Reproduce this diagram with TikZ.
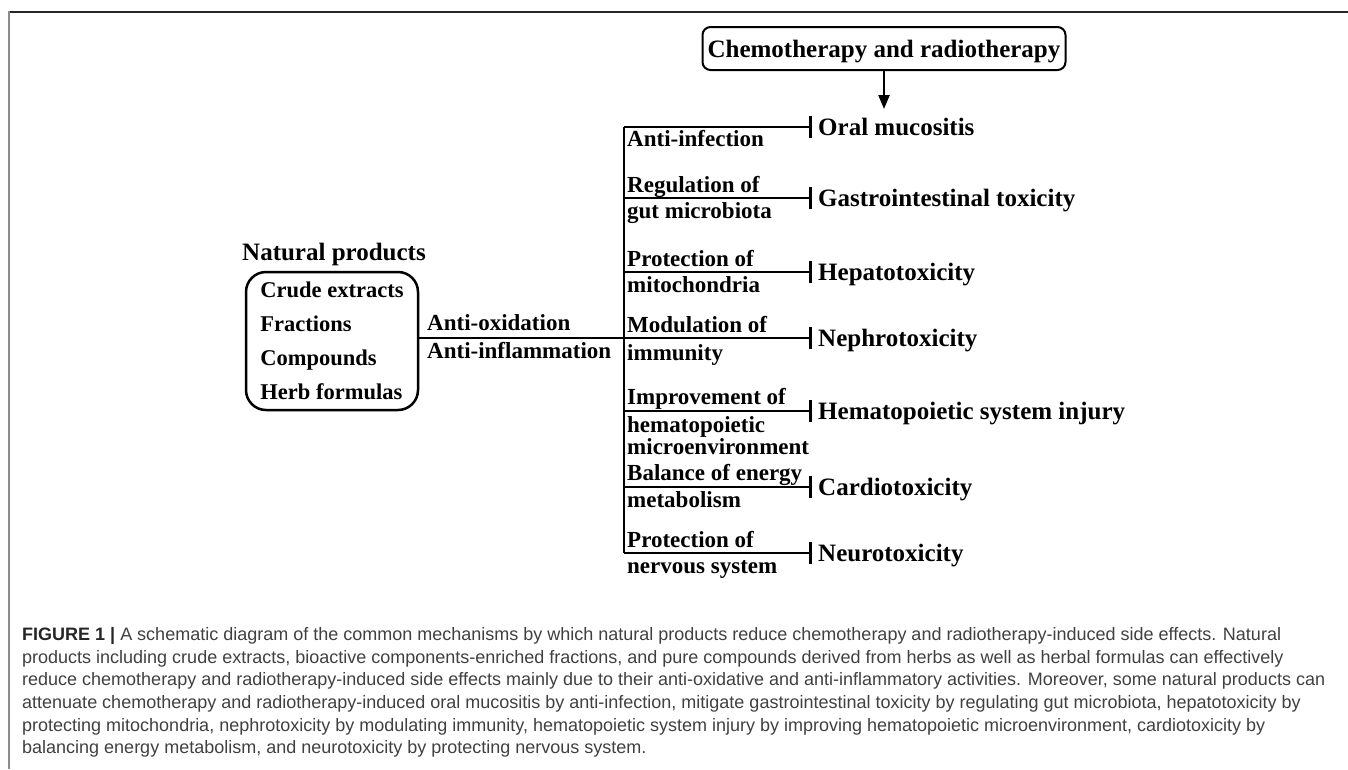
\documentclass[tikz,border=0pt]{standalone}
\usepackage{fontspec}
\setmainfont{Liberation Serif}
\newfontfamily\capfont{Liberation Sans}
\usetikzlibrary{arrows.meta}
\begin{document}
\begin{tikzpicture}[x=1pt,y=-1pt,
  effect/.style={font=\bfseries\fontsize{25}{30}\selectfont, anchor=west, inner xsep=6pt, inner ysep=0pt, text height=16.5pt, text depth=0pt},
  mech/.style={font=\bfseries\fontsize{23}{26}\selectfont, anchor=base west, inner sep=0pt},
  heading/.style={font=\bfseries\fontsize{25}{30}\selectfont, anchor=base west, inner sep=0pt},
  chemobox/.style={draw, line width=2pt, rounded corners=8pt, minimum width=363pt, minimum height=43pt, inner sep=0pt, text height=17pt, text depth=0pt, font=\bfseries\fontsize{25}{30}\selectfont},
  npbox/.style={draw, line width=2.5pt, rounded corners=20pt, minimum width=172pt, minimum height=138pt, inner sep=0pt, align=left, font=\bfseries\fontsize{22.5}{34}\selectfont},
  conn/.style={line width=2.6pt},
  inhib/.style={line width=2.6pt, -{Bar[width=22pt]}},
  arrowline/.style={line width=2.4pt, -{Triangle[length=14pt,width=11pt]}},
  captext/.style={anchor=north west, align=left, inner sep=0pt, text=black!75, font=\capfont\fontsize{18}{22.6}\selectfont}
]
\useasboundingbox (0,0) rectangle (1348,769);
% frame
\draw[black!85, line width=1.6pt] (9,11.7) -- (1348,11.7);
\draw[black!45, line width=2pt] (9.3,11) -- (9.3,769);

% top box and arrow
\node[chemobox] (chemo) at (884,48.5) {Chemotherapy and radiotherapy};
\coordinate (arrowtip) at (884,109);
\draw[arrowline] (chemo.south) -- (arrowtip);

% natural products
\node[heading] (nphead) at (242,260) {Natural products};
\node[npbox] (np) at (332,341) {Crude extracts\\Fractions\\Compounds\\Herb formulas};

% trunk coordinates
\coordinate (t1) at (624,127);
\coordinate (t2) at (624,198);
\coordinate (t3) at (624,272);
\coordinate (t4) at (624,338);
\coordinate (t5) at (624,411);
\coordinate (t6) at (624,487);
\coordinate (t7) at (624,553);

% effects
\node[effect] (r1) at (812,127) {Oral mucositis};
\node[effect] (r2) at (812,198) {Gastrointestinal toxicity};
\node[effect] (r3) at (812,272) {Hepatotoxicity};
\node[effect] (r4) at (812,338) {Nephrotoxicity};
\node[effect] (r5) at (812,411) {Hematopoietic system injury};
\node[effect] (r6) at (812,487) {Cardiotoxicity};
\node[effect] (r7) at (812,553) {Neurotoxicity};

% connectors
\draw[conn] (np.east |- t4) -- (t4);
\draw[conn] (t1) -- (t7);
\draw[inhib] (t1) -- (r1.west);
\draw[inhib] (t2) -- (r2.west);
\draw[inhib] (t3) -- (r3.west);
\draw[inhib] (t4) -- (r4.west);
\draw[inhib] (t5) -- (r5.west);
\draw[inhib] (t6) -- (r6.west);
\draw[inhib] (t7) -- (r7.west);

% main labels
\node[mech] (ox) at (427,330) {Anti-oxidation};
\node[mech] (infl) at (427,358) {Anti-inflammation};

% mechanism labels
\node[mech] (m1) at (627,146) {Anti-infection};
\node[mech] (m2a) at (627,192) {Regulation of};
\node[mech] (m2b) at (627,218) {gut microbiota};
\node[mech] (m3a) at (627,266) {Protection of};
\node[mech] (m3b) at (627,292) {mitochondria};
\node[mech] (m4a) at (627,332) {Modulation of};
\node[mech] (m4b) at (627,360) {immunity};
\node[mech] (m5a) at (627,404) {Improvement of};
\node[mech, anchor=north west, align=left, font=\bfseries\fontsize{23}{18}\selectfont] (m5b) at (627,416.5) {hematopoietic\\microenvironment};
\node[mech] (m6a) at (627,480) {Balance of energy};
\node[mech] (m6b) at (627,507) {metabolism};
\node[mech] (m7a) at (627,547) {Protection of};
\node[mech] (m7b) at (627,573) {nervous system};

% caption
\node[captext] (caption) at (22,627.5) {{\bfseries\color{black!85}FIGURE 1 |} A schematic diagram of the common mechanisms by which natural products reduce chemotherapy and radiotherapy-induced side effects. Natural\\
products including crude extracts, bioactive components-enriched fractions, and pure compounds derived from herbs as well as herbal formulas can effectively\\
reduce chemotherapy and radiotherapy-induced side effects mainly due to their anti-oxidative and anti-inflammatory activities. Moreover, some natural products can\\
attenuate chemotherapy and radiotherapy-induced oral mucositis by anti-infection, mitigate gastrointestinal toxicity by regulating gut microbiota, hepatotoxicity by\\
protecting mitochondria, nephrotoxicity by modulating immunity, hematopoietic system injury by improving hematopoietic microenvironment, cardiotoxicity by\\
balancing energy metabolism, and neurotoxicity by protecting nervous system.};
\end{tikzpicture}
\end{document}
